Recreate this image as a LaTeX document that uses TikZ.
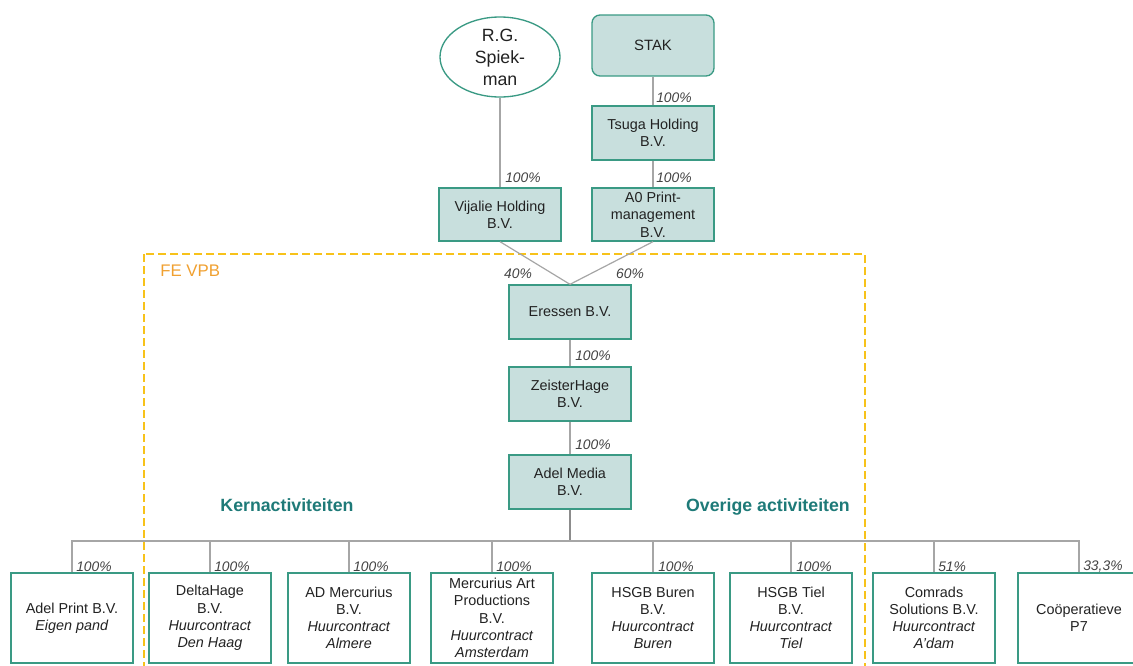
\documentclass[tikz,border=0pt]{standalone}
\usepackage{fontspec}
\setmainfont{Liberation Sans}
\usetikzlibrary{shapes.geometric}
\definecolor{boxfill}{HTML}{C8DFDD}
\definecolor{boxline}{HTML}{3A9A84}
\definecolor{linegray}{HTML}{A6A6A6}
\definecolor{busgray}{HTML}{8C8C8C}
\definecolor{headteal}{HTML}{1E7A78}
\definecolor{fevpb}{HTML}{F0A030}
\definecolor{dashy}{HTML}{F7C21A}
\definecolor{txt}{HTML}{222222}
\begin{document}
\begin{tikzpicture}[x=0.75pt,y=-0.75pt,
  entity/.style={draw=boxline, fill=boxfill, line width=1pt, minimum width=91.5pt, minimum height=40.5pt, align=center, inner sep=1pt, text=txt, font=\fontsize{10.8}{13}\selectfont},
  childbox/.style={draw=boxline, fill=white, line width=1pt, minimum width=91.5pt, minimum height=67.5pt, align=center, inner sep=1pt, text=txt, font=\fontsize{10.8}{12.9}\selectfont},
  pct/.style={font=\itshape\fontsize{10.4}{11}\selectfont, text=txt!85, anchor=west, inner sep=0pt},
  link/.style={draw=linegray, line width=0.9pt},
  buslink/.style={draw=busgray, line width=0.9pt},
  head/.style={font=\bfseries\fontsize{13.3}{15}\selectfont, text=headteal, inner sep=0pt}
]
\useasboundingbox (0,0) rectangle (1133,665);
\clip (0,0) rectangle (1133,665);

% fiscal unity dashed frame
\draw[dashy, line width=1.8pt, dash pattern=on 6pt off 3pt] (144,254) rectangle (865,720);
\node[font=\fontsize{12.6}{14}\selectfont, text=fevpb, anchor=west, inner sep=0pt] (fe) at (160,271) {FE VPB};

% top
\node[ellipse, draw=boxline, fill=white, line width=1pt, minimum width=90pt, minimum height=60pt, align=center, inner sep=0pt, text=txt, font=\fontsize{13.3}{16.5}\selectfont] (rg) at (500,57) {R.G.\\Spiek-\\man};
\node[entity, rounded corners=6pt, minimum height=45.75pt, font=\fontsize{11.2}{13}\selectfont] (stak) at (653,45.5) {STAK};
\node[entity] (tsuga) at (653,133) {Tsuga Holding\\B.V.};
\node[entity, minimum height=39.75pt] (a0) at (653,214.5) {A0 Print-\\management\\B.V.};
\node[entity, minimum height=39.75pt] (vij) at (500,214.5) {Vijalie Holding\\B.V.};

\node[entity] (eres) at (570,312) {Eressen B.V.};
\node[entity] (zeis) at (570,394) {ZeisterHage\\B.V.};
\node[entity] (adel) at (570,482) {Adel Media\\B.V.};

\draw[link] (rg.south) -- (vij.north);
\draw[link] (stak.south) -- (tsuga.north);
\draw[link] (tsuga.south) -- (a0.north);
\draw[link] (vij.south) -- (eres.north);
\draw[link] (a0.south) -- (eres.north);
\draw[link] (eres.south) -- (zeis.north);
\draw[link] (zeis.south) -- (adel.north);

\node[pct] (p1) at (505,178) {100\%};
\node[pct] (p2) at (656,98) {100\%};
\node[pct] (p3) at (656,178) {100\%};
\node[pct, anchor=center] (p4) at (518,274) {40\%};
\node[pct, anchor=center] (p5) at (630,274) {60\%};
\node[pct] (p6) at (575,356) {100\%};
\node[pct] (p7) at (575,445) {100\%};

\node[head] (kern) at (287,505) {Kernactiviteiten};
\node[head] (over) at (768,507) {Overige activiteiten};

% children
\node[childbox] (c1) at (72,618) {Adel Print B.V.\\\textit{Eigen pand}};
\node[childbox] (c2) at (210,618) {DeltaHage\\B.V.\\\textit{Huurcontract}\\\textit{Den Haag}};
\node[childbox] (c3) at (349,618) {AD Mercurius\\B.V.\\\textit{Huurcontract}\\\textit{Almere}};
\node[childbox] (c4) at (492,618) {Mercurius Art\\Productions\\B.V.\\\textit{Huurcontract}\\\textit{Amsterdam}};
\node[childbox] (c5) at (653,618) {HSGB Buren\\B.V.\\\textit{Huurcontract}\\\textit{Buren}};
\node[childbox] (c6) at (791,618) {HSGB Tiel\\B.V.\\\textit{Huurcontract}\\\textit{Tiel}};
\node[childbox] (c7) at (934,618) {Comrads\\Solutions B.V.\\\textit{Huurcontract}\\\textit{A'dam}};
\node[childbox] (c8) at (1079,618) {Coöperatieve\\P7};

\coordinate (bus) at (570,541);
\draw[buslink] (adel.south) -- (bus);
\draw[link] (c1.north) -- (c1.north |- bus) -- (c8.north |- bus) -- (c8.north);
\foreach \c in {c2,c3,c4,c5,c6,c7} \draw[link] (\c.north) -- (\c.north |- bus);

\node[pct] (q1) at (76,567) {100\%};
\node[pct] (q2) at (214,567) {100\%};
\node[pct] (q3) at (353,567) {100\%};
\node[pct] (q4) at (496,567) {100\%};
\node[pct] (q5) at (658,567) {100\%};
\node[pct] (q6) at (796,567) {100\%};
\node[pct] (q7) at (938,567) {51\%};
\node[pct] (q8) at (1083,567) {33,3\%};
\end{tikzpicture}
\end{document}
